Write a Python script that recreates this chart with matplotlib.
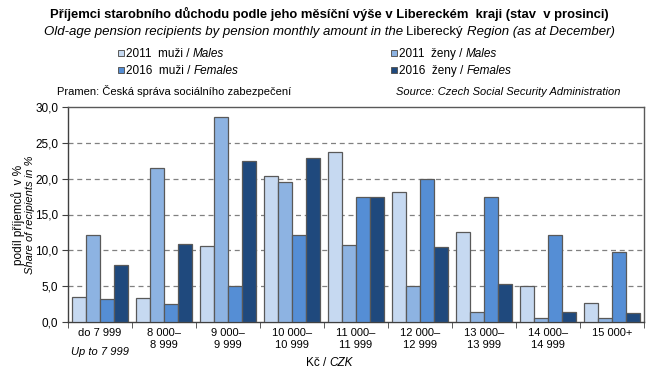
import matplotlib
matplotlib.use("Agg")
import matplotlib.pyplot as plt
import numpy as np
from matplotlib.patches import Rectangle

plt.rcParams['font.family'] = ['Liberation Sans', 'DejaVu Sans']

categories = ["do 7 999", "8 000–\n8 999", "9 000–\n9 999", "10 000–\n10 999",
              "11 000–\n11 999", "12 000–\n12 999", "13 000–\n13 999",
              "14 000–\n14 999", "15 000+"]
men_2011 = [3.5, 3.3, 10.6, 20.4, 23.7, 18.1, 12.6, 5.0, 2.7]
women_2011 = [12.1, 21.5, 28.6, 19.5, 10.7, 5.0, 1.4, 0.5, 0.5]
men_2016 = [3.2, 2.5, 5.0, 12.1, 17.4, 20.0, 17.5, 12.2, 9.7]
women_2016 = [8.0, 10.9, 22.5, 22.9, 17.4, 10.4, 5.3, 1.4, 1.2]

series = [men_2011, women_2011, men_2016, women_2016]
colors = ["#C6D9F1", "#8DB3E2", "#558ED5", "#1F497D"]
legend_main = ["2011  muži / ", "2011  ženy / ", "2016  muži / ", "2016  ženy / "]
legend_it = ["Males", "Males", "Females", "Females"]
yticks = [0, 5, 10, 15, 20, 25, 30]

W, H = 658, 370
fig = plt.figure(figsize=(W / 100, H / 100), dpi=100)
ax = fig.add_axes([68 / W, 1 - 322 / H, (644 - 68) / W, (322 - 107) / H])

x = np.arange(len(categories))
bw = 0.22
for i, (vals, c) in enumerate(zip(series, colors)):
    ax.bar(x + (i - 1.5) * bw, vals, width=bw, color=c, edgecolor="#595959",
           linewidth=0.9, zorder=3)

ax.set_xlim(-0.5, len(categories) - 0.5)
ax.set_ylim(0, 30)
ax.set_yticks(yticks)
ax.set_yticklabels([f"{v:.1f}".replace(".", ",") for v in yticks], fontsize=8.5)
for v in yticks[1:-1]:
    ax.axhline(v, color="#808080", linestyle=(0, (4, 3)), linewidth=0.9, zorder=1)

ax.set_xticks(x)
ax.set_xticklabels(categories, fontsize=8, linespacing=1.3)
ax.tick_params(axis="x", length=0, pad=4)
ax.set_xticks(np.arange(-0.5, len(categories), 1.0), minor=True)
ax.tick_params(axis="x", which="minor", length=4, direction="out", color="#404040")
ax.tick_params(axis="y", length=4, direction="out", color="#404040", pad=3)
for s in ["left", "bottom"]:
    ax.spines[s].set_color("#404040")
for s in ["top", "right"]:
    ax.spines[s].set_color("#595959")
for s in ax.spines.values():
    s.set_linewidth(1.0)

# extra italic line under the first category
ax.text(0, -0.118, "Up to 7 999", transform=ax.get_xaxis_transform(),
        ha="center", va="top", fontsize=8, style="italic")


def chain2(parts, x0, y0, size=8.5, center=False):
    r = fig.canvas.get_renderer()
    objs = []
    for txt, kw in parts:
        t = fig.text(0, 0, txt, fontsize=size, va="baseline", ha="left", **kw)
        objs.append(t)
    widths = [o.get_window_extent(r).width for o in objs]
    total = sum(widths)
    start = x0 - total / 2 if center else x0
    cx = start
    for o, w in zip(objs, widths):
        o.set_position((cx / W, 1 - y0 / H))
        cx += w
    return start, total


# title
fig.text(329 / W, 1 - 18 / H,
         "Příjemci starobního důchodu podle jeho měsíční výše v Libereckém  kraji (stav  v prosinci)",
         ha="center", va="baseline", fontsize=9.4, fontweight="bold")
chain2([("Old-age pension recipients by pension monthly amount in the ", dict(style="italic")),
        ("Liberecký ", {}),
        ("Region (as at December)", dict(style="italic"))], 329, 35, size=9.5, center=True)

# legend
leg_pos = [(126, 57), (399, 57), (126, 74), (399, 74)]
for (lx, ly), c, m, it in zip(leg_pos, colors, legend_main, legend_it):
    fig.patches.append(Rectangle(((lx - 8) / W, 1 - (ly - 1) / H), 6 / W, 6 / H,
                                 transform=fig.transFigure, facecolor=c,
                                 edgecolor="#595959", linewidth=0.7))
    chain2([(m, {}), (it, dict(style="italic"))], lx, ly, size=8.5)

# source lines
fig.text(57 / W, 1 - 95 / H, "Pramen: Česká správa sociálního zabezpečení",
         ha="left", va="baseline", fontsize=8)
fig.text(620 / W, 1 - 95 / H, "Source: Czech Social Security Administration",
         ha="right", va="baseline", fontsize=8, style="italic")

# y label
fig.text(18 / W, 1 - 215 / H, "podíl příjemců  v %", rotation=90, ha="center",
         va="center", fontsize=8.5)
fig.text(30 / W, 1 - 215 / H, "Share of recipients in %", rotation=90, ha="center",
         va="center", fontsize=8, style="italic")

# x label
chain2([("Kč / ", {}), ("CZK", dict(style="italic"))], 329, 366, size=8.5, center=True)

fig.savefig("out.png", dpi=100)
